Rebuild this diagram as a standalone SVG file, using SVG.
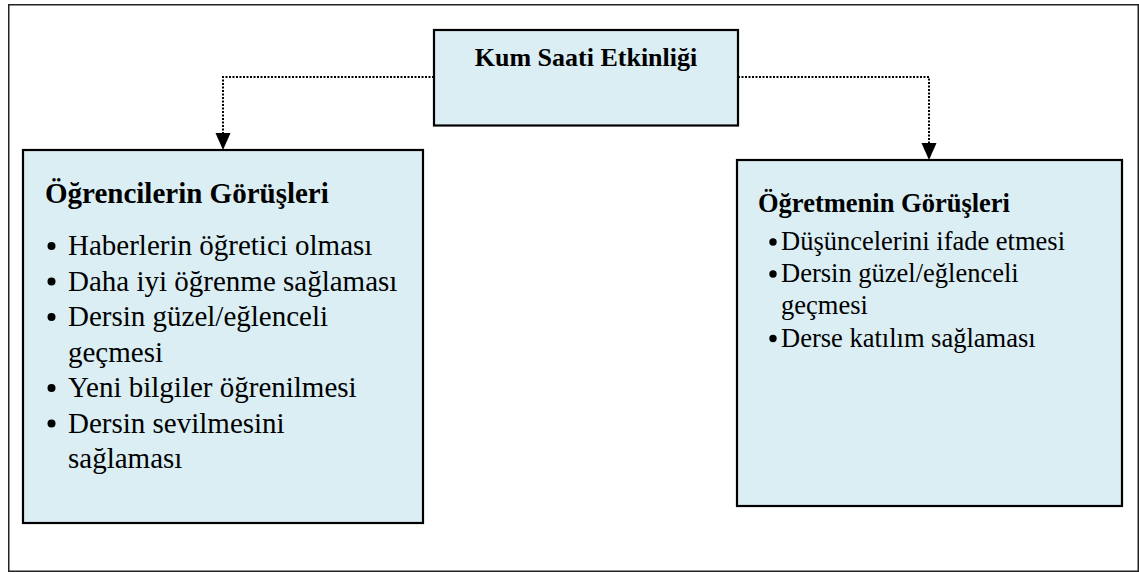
<svg xmlns="http://www.w3.org/2000/svg" width="1139" height="574" viewBox="0 0 1139 574">
  <style>
    .frame { fill: #ffffff; stroke: #222222; stroke-width: 1.5; }
    .box { fill: #DAEEF3; stroke: #000000; stroke-width: 2.2; }
    .conn { fill: none; stroke: #000000; stroke-width: 2; stroke-dasharray: 2 1.5; }
    .t { font-family: "Liberation Serif", "Times New Roman", serif; fill: #000000; }
    .b { font-weight: bold; }
    .l { font-size: 29px; }
    .r { font-size: 26.5px; }
    .bul { fill: #000000; }
  </style>
  <defs>
    <marker id="arr" viewBox="0 0 15 17" refX="7.5" refY="17" markerWidth="15" markerHeight="17" markerUnits="userSpaceOnUse" orient="auto-start-reverse">
      <path d="M0,0 L15,0 L7.5,17 Z" fill="#000000"/>
    </marker>
  </defs>
  <rect class="frame" x="8.75" y="4.75" width="1129.5" height="566.5"/>

  <g id="connectors">
    <polyline class="conn" points="434,77 223,77 223,133"/>
    <path d="M215.5,133 L230.5,133 L223,150 Z" fill="#000000"/>
    <polyline class="conn" points="738,77 929,77 929,143"/>
    <path d="M921.5,143 L936.5,143 L929,160 Z" fill="#000000"/>
  </g>

  <g id="node-top">
    <rect class="box" x="434" y="30" width="304" height="95.5"/>
    <text class="t b" x="586" y="66" font-size="26" text-anchor="middle">Kum Saati Etkinliği</text>
  </g>

  <g id="node-left">
    <rect class="box" x="23" y="150" width="400" height="373"/>
    <text class="t b l" x="45" y="203">Öğrencilerin Görüşleri</text>
    <circle class="bul" cx="51.5" cy="246" r="4"/>
    <text class="t l" x="68" y="255">Haberlerin öğretici olması</text>
    <circle class="bul" cx="51.5" cy="281.5" r="4"/>
    <text class="t l" x="68" y="290.5">Daha iyi öğrenme sağlaması</text>
    <circle class="bul" cx="51.5" cy="317" r="4"/>
    <text class="t l" x="68" y="326">Dersin güzel/eğlenceli</text>
    <text class="t l" x="68" y="361.5">geçmesi</text>
    <circle class="bul" cx="51.5" cy="388" r="4"/>
    <text class="t l" x="68" y="397">Yeni bilgiler öğrenilmesi</text>
    <circle class="bul" cx="51.5" cy="423.5" r="4"/>
    <text class="t l" x="68" y="432.5">Dersin sevilmesini</text>
    <text class="t l" x="68" y="468">sağlaması</text>
  </g>

  <g id="node-right">
    <rect class="box" x="737" y="160" width="385" height="346"/>
    <text class="t b r" x="758" y="211.7">Öğretmenin Görüşleri</text>
    <circle class="bul" cx="773" cy="242" r="3.7"/>
    <text class="t r" x="781" y="250">Düşüncelerini ifade etmesi</text>
    <circle class="bul" cx="773" cy="274" r="3.7"/>
    <text class="t r" x="781" y="282">Dersin güzel/eğlenceli</text>
    <text class="t r" x="781" y="314">geçmesi</text>
    <circle class="bul" cx="773" cy="338.5" r="3.7"/>
    <text class="t r" x="781" y="346.5">Derse katılım sağlaması</text>
  </g>
</svg>
